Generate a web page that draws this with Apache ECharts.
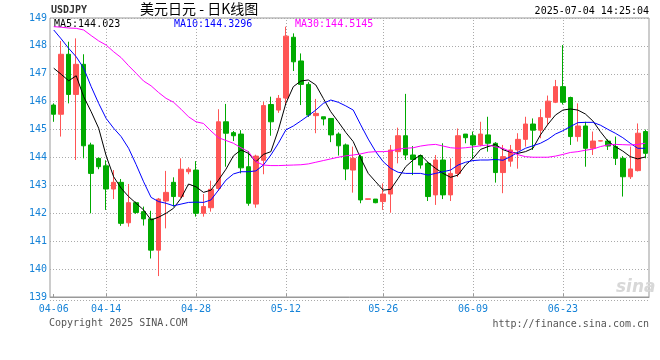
<!DOCTYPE html>
<html>
<head>
<meta charset="utf-8">
<script src="https://cdn.jsdelivr.net/npm/echarts@6/dist/echarts.min.js"></script>
<style>
html,body{margin:0;padding:0;background:#fff;}
#chart{width:660px;height:360px;}
</style>
</head>
<body>
<div id="chart"></div>
<script>
const dates = [
  '04-06','04-07','04-08','04-09','04-10','04-11','04-12',
  '04-14','04-15','04-16','04-17','04-18','04-19',
  '04-21','04-22','04-23','04-24','04-25','04-26',
  '04-28','04-29','04-30','05-01','05-02','05-03',
  '05-05','05-06','05-07','05-08','05-09','05-10',
  '05-12','05-13','05-14','05-15','05-16','05-17','05-18',
  '05-19','05-20','05-21','05-22','05-23','05-24',
  '05-26','05-27','05-28','05-29','05-30','05-31',
  '06-02','06-03','06-04','06-05','06-06','06-07',
  '06-09','06-10','06-11','06-12','06-13','06-14',
  '06-16','06-17','06-18','06-19','06-20','06-21',
  '06-23','06-24','06-25','06-26','06-27','06-28','06-29',
  '06-30','07-01','07-02','07-03','07-04'
];
const tickDates = ['04-06','04-14','04-28','05-12','05-26','06-09','06-23'];
const yTicks = [139,140,141,142,143,144,145,146,147,148,149];

const openVals = [
  145.88,145.55,147.70,146.26,147.34,144.45,143.97,
  143.70,142.87,143.11,141.66,142.38,142.06,
  141.80,140.68,142.44,143.11,142.60,143.49,
  143.55,142.00,142.20,142.89,145.28,144.89,
  144.84,143.67,142.33,143.90,145.90,145.70,
  146.13,148.31,147.46,146.62,145.50,145.46,145.40,
  144.84,144.45,143.55,144.03,142.50,142.51,
  142.42,142.69,144.21,144.78,144.09,144.07,
  143.79,142.66,143.91,142.66,143.43,144.84,
  144.78,144.45,144.81,144.51,143.46,143.87,
  144.27,144.65,145.20,144.98,145.44,145.98,
  146.54,146.15,144.75,145.13,144.33,144.59,144.59,
  144.39,143.97,143.31,143.53,144.93
];
const closeVals = [
  145.55,147.70,146.26,147.34,144.42,143.43,143.67,
  142.87,143.11,141.64,142.38,142.03,141.80,
  140.68,142.51,142.75,142.60,143.58,143.58,
  142.00,142.24,142.86,145.28,144.87,144.78,
  143.63,142.36,144.05,145.86,145.28,146.12,
  148.35,147.43,146.62,145.52,145.58,145.38,144.81,
  144.42,143.59,143.97,142.48,142.52,142.38,
  142.69,144.27,144.78,144.09,143.93,143.73,
  142.60,143.91,142.66,143.43,144.78,144.71,
  144.45,144.84,144.51,143.46,144.03,144.27,
  144.65,145.20,144.98,145.43,146.02,146.54,
  145.98,144.75,145.13,144.33,144.59,144.60,144.41,
  143.97,143.31,143.59,144.87,144.15
];
const lowVals = [
  145.28,144.75,145.94,143.91,143.97,142.00,143.58,
  142.12,142.51,141.55,141.52,141.98,141.56,
  140.38,139.75,141.46,142.24,142.55,143.40,
  141.88,141.88,142.06,142.80,143.67,144.59,
  143.43,142.27,142.20,143.40,144.78,145.60,
  145.90,147.10,145.88,145.45,144.87,145.15,144.55,
  144.07,143.19,142.74,142.36,142.48,142.36,
  142.12,142.02,143.79,143.91,143.37,143.60,
  142.44,142.30,142.51,142.44,143.30,144.51,
  143.97,144.40,144.21,143.10,142.72,143.67,
  143.60,144.39,144.27,144.69,145.17,145.95,
  145.90,144.45,144.57,143.67,144.09,144.58,144.27,
  143.73,142.60,143.23,143.50,143.97
];
const highVals = [
  145.94,148.18,148.15,148.27,147.70,144.53,144.00,
  143.90,143.55,143.23,143.05,142.42,142.24,
  142.09,142.55,143.52,143.29,143.97,143.65,
  143.87,142.69,143.17,145.73,145.92,144.95,
  144.98,144.23,144.10,146.00,146.18,146.24,
  148.69,148.45,147.73,146.70,146.10,145.46,145.40,
  144.90,144.50,144.39,144.10,142.52,142.51,
  143.07,144.45,145.07,146.28,144.41,144.10,
  143.85,144.09,144.51,143.97,145.04,144.84,
  144.93,145.28,145.46,144.55,144.45,144.45,
  144.87,145.46,145.40,145.73,146.22,146.78,
  148.03,146.18,145.94,145.28,144.93,144.61,144.65,
  144.75,144.05,144.39,145.22,145.00
];
const ma5 = [
  147.20,146.98,146.75,146.93,146.18,145.64,145.05,
  144.06,143.31,142.90,142.60,142.36,142.12,
  141.76,141.86,142.00,142.18,142.54,143.05,
  142.95,142.75,142.83,143.19,143.58,144.06,
  144.27,144.15,143.85,144.11,144.21,144.99,
  145.94,146.54,146.74,146.78,146.60,146.12,145.64,
  145.28,144.90,144.57,143.97,143.43,143.13,
  142.83,142.86,143.25,143.67,143.91,144.09,
  143.82,143.61,143.43,143.29,143.37,143.73,
  143.97,144.29,144.39,144.47,144.28,144.19,
  144.15,144.21,144.33,144.81,145.19,145.52,
  145.70,145.74,145.70,145.56,145.31,144.93,144.59,
  144.39,144.23,144.03,143.95,144.02
];
const ma10 = [
  148.57,148.25,147.91,147.61,147.20,146.54,145.94,
  145.40,145.05,144.75,144.33,143.75,143.13,
  142.57,142.42,142.36,142.27,142.33,142.39,
  142.40,142.39,142.48,142.83,143.19,143.41,
  143.49,143.49,143.52,143.73,144.09,144.51,
  144.99,145.13,145.31,145.50,145.70,145.94,146.06,
  145.98,145.85,145.70,145.17,144.66,144.21,
  143.85,143.61,143.47,143.43,143.43,143.43,
  143.37,143.43,143.49,143.55,143.73,143.83,
  143.89,143.91,143.91,143.93,143.90,144.03,
  144.19,144.33,144.42,144.51,144.65,144.84,
  144.96,145.11,145.25,145.26,145.26,145.16,145.01,
  144.87,144.71,144.51,144.33,144.33
];
const ma30 = [
  148.69,148.67,148.64,148.63,148.57,148.37,148.18,
  148.03,147.79,147.58,147.29,147.02,146.74,
  146.57,146.33,146.12,145.98,145.73,145.46,
  145.28,145.22,144.95,144.71,144.61,144.51,
  144.35,144.21,143.85,143.73,143.71,143.71,
  143.72,143.73,143.74,143.77,143.83,143.89,143.95,
  144.01,144.06,144.09,144.13,144.19,144.21,
  144.21,144.23,144.30,144.33,144.35,144.41,
  144.45,144.47,144.41,144.35,144.33,144.35,
  144.38,144.42,144.45,144.38,144.33,144.21,
  144.10,144.03,144.01,144.01,144.01,144.05,
  144.11,144.18,144.21,144.26,144.30,144.39,144.45,
  144.47,144.46,144.45,144.47,144.51
];

const candleData = dates.map((d, i) => [openVals[i], closeVals[i], lowVals[i], highVals[i]]);

const mono = 'DejaVu Sans Mono';
const blue = '#1683d8';
const chart = echarts.init(document.getElementById('chart'), null, {renderer: 'canvas'});
chart.setOption({
  animation: false,
  backgroundColor: '#ffffff',
  grid: {left: 50, right: 11, top: 18, bottom: 63, show: true, borderColor: '#999', borderWidth: 1, backgroundColor: 'transparent'},
  xAxis: {
    type: 'category',
    data: dates,
    boundaryGap: true,
    axisLine: {show: true, lineStyle: {color: '#999'}},
    axisTick: {show: true, inside: true, length: 3, alignWithLabel: true,
      interval: (idx, val) => tickDates.includes(val), lineStyle: {color: '#999'}},
    axisLabel: {show: true, interval: (idx, val) => tickDates.includes(val),
      color: blue, fontFamily: mono, fontSize: 10, margin: 7},
    splitLine: {show: false}
  },
  yAxis: {
    type: 'value',
    min: 139, max: 149, interval: 1,
    axisLine: {show: false},
    axisTick: {show: false},
    axisLabel: {color: blue, fontFamily: mono, fontSize: 10, margin: 3,
      formatter: v => yTicks.includes(v) ? String(v) : ''},
    splitLine: {show: true, lineStyle: {color: '#aaa', type: [1, 2], width: 1}}
  },
  series: [
    {
      type: 'candlestick',
      data: candleData,
      barWidth: 5,
      itemStyle: {color: '#ff5555', color0: '#00aa00', borderColor: '#ff5555', borderColor0: '#00aa00', borderWidth: 1},
      markLine: {
        silent: true, symbol: ['none', 'none'], z: 1,
        label: {show: false},
        lineStyle: {color: '#aaa', type: [1, 2], width: 1},
        emphasis: {disabled: true},
        data: tickDates.slice(1).map(d => ({xAxis: d}))
      },
      z: 3
    },
    {type: 'line', data: ma5, showSymbol: false, symbol: 'none', lineStyle: {color: '#000', width: 1}, z: 4},
    {type: 'line', data: ma10, showSymbol: false, symbol: 'none', lineStyle: {color: '#0000ff', width: 1}, z: 4},
    {type: 'line', data: ma30, showSymbol: false, symbol: 'none', lineStyle: {color: '#ff00ff', width: 1}, z: 4}
  ],
  graphic: [
    {type: 'text', left: 51, top: 5, style: {text: 'USDJPY', font: 'bold 10px "DejaVu Sans Mono"', fill: '#333'}},
    {type: 'text', left: 140, top: 2, style: {text: '美元日元 - 日K线图', font: '14px "Noto Sans CJK SC"', fill: '#000'}},
    {type: 'text', right: 11, top: 6, style: {text: '2025-07-04 14:25:04', font: '10px "DejaVu Sans Mono"', fill: '#000'}},
    {type: 'text', left: 54, top: 19, style: {text: 'MA5:144.023', font: '10px "DejaVu Sans Mono"', fill: '#000'}},
    {type: 'text', left: 174, top: 19, style: {text: 'MA10:144.3296', font: '10px "DejaVu Sans Mono"', fill: '#0000ff'}},
    {type: 'text', left: 295, top: 19, style: {text: 'MA30:144.5145', font: '10px "DejaVu Sans Mono"', fill: '#ff00ff'}},
    {type: 'line', shape: {x1: 50, y1: 300.5, x2: 650, y2: 300.5}, style: {stroke: '#aaa', lineDash: [1, 2], lineWidth: 1}},
    {type: 'text', left: 49, top: 318, style: {text: 'Copyright 2025 SINA.COM', font: '10px "DejaVu Sans Mono"', fill: '#555'}},
    {type: 'text', right: 11, top: 319, style: {text: 'http://finance.sina.com.cn', font: '10px "DejaVu Sans Mono"', fill: '#555'}},
    {type: 'text', left: 616, top: 279, style: {text: 'sina', font: 'italic bold 17px "DejaVu Sans"', fill: '#d8d8d8'}}
  ]
});
</script>
</body>
</html>
